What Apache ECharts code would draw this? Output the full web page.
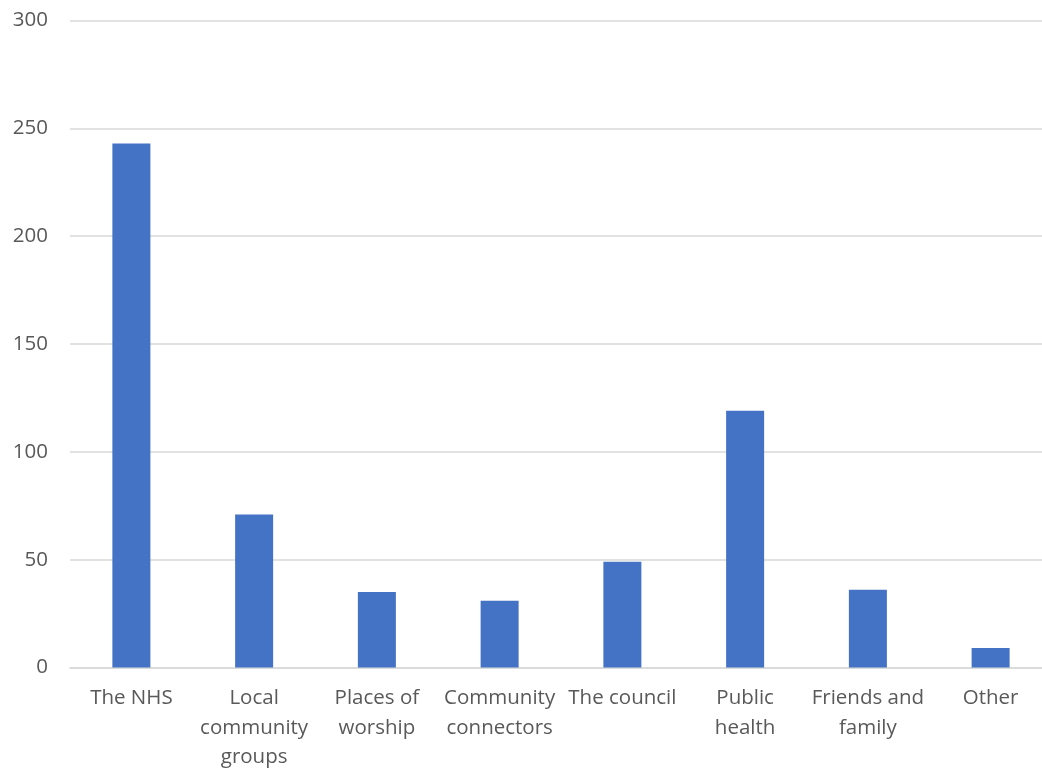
<!DOCTYPE html>
<html>
<head>
<meta charset="utf-8">
<script src="https://cdn.jsdelivr.net/npm/echarts@6/dist/echarts.min.js"></script>
<style>html,body{margin:0;padding:0;background:#fff}#c{width:1042px;height:771px}</style>
</head>
<body>
<div id="c"></div>
<script>
const categories = ["The NHS", "Local\ncommunity\ngroups", "Places of\nworship", "Community\nconnectors", "The council", "Public\nhealth", "Friends and\nfamily", "Other"];
const values = [243, 71, 35, 31, 49, 119, 36, 9];
const yTicks = {min: 0, max: 300, interval: 50};

const chart = echarts.init(document.getElementById('c'), null, {renderer: 'canvas'});
const font = '"Open Sans", "Liberation Sans", sans-serif';
chart.setOption({
  animation: false,
  grid: {left: 70, width: 982, top: 20.5, height: 647, containLabel: false, outerBoundsMode: 'none'},
  xAxis: {
    type: 'category',
    data: categories,
    axisLine: {show: true, lineStyle: {color: '#d9d9d9', width: 1.5}},
    axisTick: {show: false},
    axisLabel: {interval: 0, color: '#595959', fontSize: 20.5, fontFamily: font, lineHeight: 29.5, margin: 16}
  },
  yAxis: {
    type: 'value',
    min: yTicks.min, max: yTicks.max, interval: yTicks.interval,
    axisLine: {show: false},
    axisTick: {show: false},
    splitLine: {lineStyle: {color: '#d9d9d9', width: 1.5}},
    axisLabel: {color: '#595959', fontSize: 20.5, fontFamily: font, margin: 22}
  },
  series: [{
    type: 'bar',
    data: values,
    barWidth: 38,
    itemStyle: {color: '#4472c4'}
  }]
});
</script>
</body>
</html>
